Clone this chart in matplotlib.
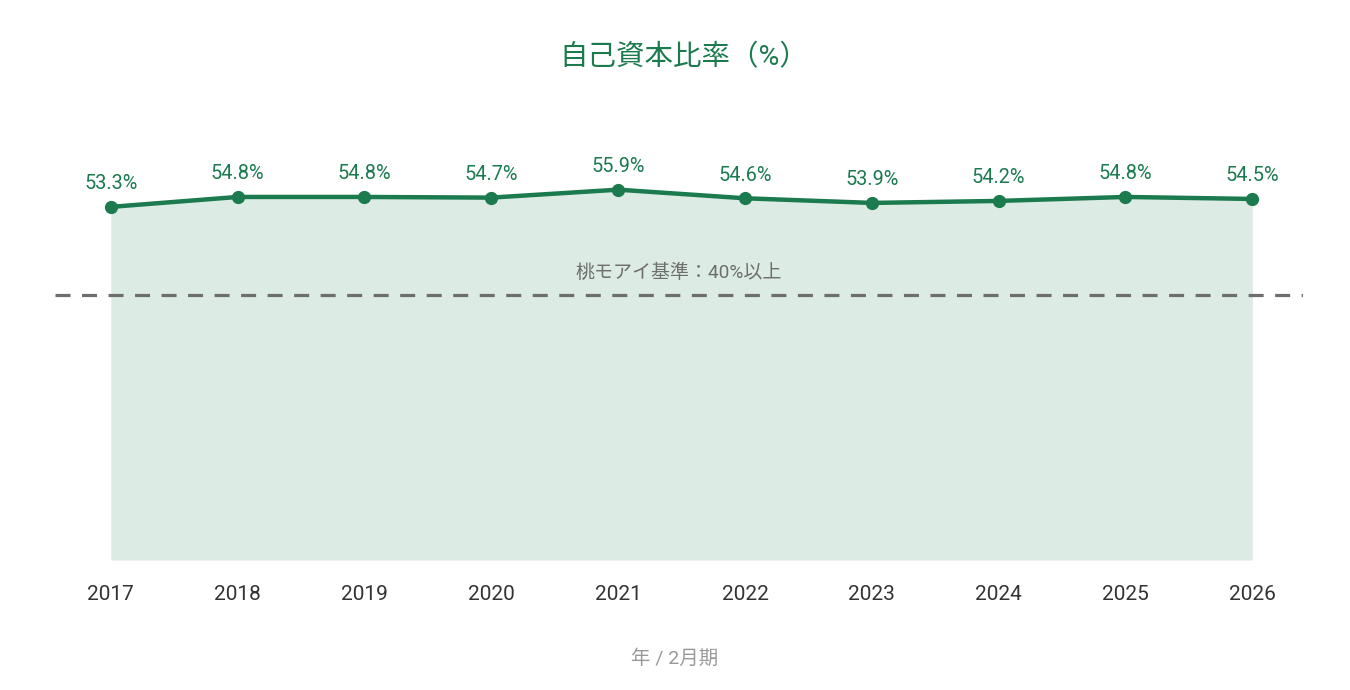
import matplotlib
matplotlib.use("Agg")
import matplotlib.pyplot as plt

plt.rcParams["font.family"] = ["Roboto", "Noto Sans CJK JP", "DejaVu Sans"]

# ── データ ──
years = ["2017", "2018", "2019", "2020", "2021", "2022", "2023", "2024", "2025", "2026"]
ratio = [53.3, 54.8, 54.8, 54.7, 55.9, 54.6, 53.9, 54.2, 54.8, 54.5]
target = 40
target_label = "桃モアイ基準：40%以上"

GREEN = "#1b7a4e"
FILL = "#dcebe3"
GRAY = "#6e6e6e"

fig = plt.figure(figsize=(13.5, 6.9), dpi=100)
ax = fig.add_axes([55 / 1350, 130 / 690, 1248 / 1350, 397.5 / 690])

x = list(range(len(years)))
ax.fill_between(x, ratio, 0, color=FILL, lw=0, zorder=1)
ax.axhline(target, color=GRAY, lw=2.3, dashes=(4.7, 3.6), zorder=2)
ax.text(0.5, target + 3.3, target_label, transform=ax.get_yaxis_transform(),
        ha="center", va="center", fontsize=13.7, color=GRAY)
ax.plot(x, ratio, color=GREEN, lw=3.2, marker="o", ms=8.5, zorder=3)

for xi, v in zip(x, ratio):
    ax.annotate(f"{v}%", (xi, v), xytext=(0, 23), textcoords="offset pixels",
                ha="center", va="center", fontsize=14.3, color=GREEN)

ax.set_xlim(-0.44, len(years) - 1 + 0.40)
ax.set_ylim(0, 60)
ax.set_xticks(x)
ax.set_xticklabels(years, fontsize=15, color="#333333")
ax.tick_params(axis="x", length=0, pad=18)
ax.set_yticks([])
for s in ax.spines.values():
    s.set_visible(False)

fig.text(684 / 1350, 1 - 58 / 690, "自己資本比率（%）", ha="center", va="center",
         fontsize=20.5, color=GREEN)
fig.text(675 / 1350, 1 - 659 / 690, "年 / 2月期", ha="center", va="center",
         fontsize=14, color="#999999")

fig.savefig("out.png", dpi=100)
